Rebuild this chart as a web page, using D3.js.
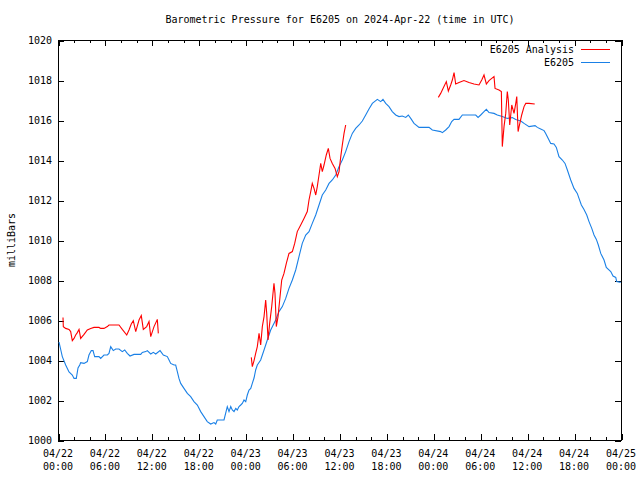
<!DOCTYPE html>
<html>
<head>
<meta charset="utf-8">
<script src="https://cdn.jsdelivr.net/npm/d3@7"></script>
<style>
  body { margin: 0; background: #fff; }
  svg { display: block; }
  text { font-family: "DejaVu Sans Mono", "Liberation Mono", monospace; font-size: 10px; fill: #000; }
</style>
</head>
<body>
<svg id="chart" width="640" height="480"></svg>
<script>
// ---- Data (hours since 2024-04-22 00:00 UTC) ----
const stationHours = [0.13,0.55,0.98,1.41,1.83,2.05,2.34,2.56,2.78,2.90,3.33,3.75,3.96,4.26,4.48,4.69,5.24,5.46,5.88,6.31,6.52,6.74,7.07,7.38,7.80,8.22,8.53,8.86,9.21,9.72,10.58,10.78,11.22,11.42,11.86,12.19,12.50,13.05,13.47,13.98,14.20,14.41,14.84,15.05,15.26,15.47,15.69,16.11,16.54,16.97,17.39,17.82,18.25,18.67,19.09,19.53,19.95,20.17,20.37,21.23,21.65,21.87,22.09,22.29,22.51,22.73,22.93,23.15,23.37,23.57,23.79,24.01,24.21,24.43,24.65,24.85,25.07,25.28,25.49,25.92,26.35,26.77,27.20,27.84,28.26,28.69,29.12,29.54,29.97,30.40,30.82,31.24,31.68,32.10,32.52,32.96,33.38,33.80,34.24,34.66,35.08,35.52,35.94,36.36,36.79,37.22,37.64,38.07,38.50,38.92,39.35,39.77,40.20,40.84,41.27,41.56,41.91,42.33,42.75,43.19,43.61,44.03,44.47,44.80,45.11,45.53,46.17,47.45,47.87,48.94,49.15,49.58,50.01,50.35,50.65,51.28,51.71,53.42,53.72,54.06,54.48,54.78,55.12,55.76,56.18,56.82,57.46,58.10,58.54,59.18,59.60,60.24,61.01,61.30,61.73,62.16,62.37,62.79,63.01,63.43,63.73,64.07,64.50,64.84,65.14,65.57,65.99,66.41,66.63,66.93,67.27,67.62,67.91,68.26,68.55,68.85,69.10,69.41,69.83,70.12,70.69,70.98,71.33,71.45,71.96];
const stationValues = [1004.9,1004.17,1003.75,1003.4,1003.25,1003.08,1003.08,1003.6,1003.75,1003.87,1003.83,1003.92,1004.25,1004.47,1004.47,1004.17,1004.17,1004.08,1004.25,1004.25,1004.33,1004.67,1004.47,1004.55,1004.55,1004.42,1004.5,1004.33,1004.2,1004.28,1004.28,1004.38,1004.42,1004.47,1004.3,1004.38,1004.3,1004.47,1004.25,1004.17,1004.0,1003.83,1003.75,1003.75,1003.42,1003.08,1002.83,1002.58,1002.33,1002.17,1001.92,1001.75,1001.42,1001.17,1000.92,1000.8,1000.87,1000.8,1001.0,1001.0,1001.67,1001.42,1001.67,1001.5,1001.42,1001.58,1001.5,1001.67,1001.75,1001.83,1002.0,1001.92,1002.25,1002.5,1002.58,1002.83,1003.1,1003.5,1003.75,1004.0,1004.5,1005.0,1005.5,1006.0,1006.42,1006.67,1007.08,1007.58,1008.0,1008.5,1009.17,1009.83,1010.25,1010.42,1010.83,1011.25,1011.75,1012.25,1012.5,1012.83,1013.0,1013.25,1013.67,1014.0,1014.42,1014.92,1015.33,1015.58,1015.75,1015.95,1016.25,1016.55,1016.83,1017.03,1016.92,1017.03,1016.83,1016.67,1016.42,1016.25,1016.17,1016.2,1016.13,1016.25,1016.08,1015.83,1015.63,1015.63,1015.5,1015.42,1015.37,1015.5,1015.67,1015.92,1016.03,1016.03,1016.25,1016.25,1016.13,1016.25,1016.42,1016.53,1016.37,1016.33,1016.25,1016.17,1016.08,1016.12,1016.03,1015.95,1015.83,1015.67,1015.72,1015.63,1015.55,1015.47,1015.33,1015.0,1014.83,1014.8,1014.63,1014.17,1014.0,1013.83,1013.5,1013.0,1012.58,1012.33,1012.08,1011.75,1011.53,1011.25,1010.92,1010.58,1010.25,1010.03,1009.75,1009.33,1009.0,1008.63,1008.42,1008.2,1008.13,1007.92,1007.88];

// Analysis series: null marks a gap between segments
const analysisHours = [0.64,0.68,0.98,1.41,1.62,1.83,2.05,2.26,2.47,2.69,2.90,3.33,3.75,4.18,4.60,5.24,5.46,5.88,6.31,6.52,7.80,8.22,8.79,9.08,9.37,9.63,9.94,10.36,10.65,10.91,11.34,11.64,11.86,12.28,12.70,12.83,
  18.0,
  24.72,24.85,25.07,25.28,25.49,25.71,25.92,26.13,26.35,26.56,26.69,26.86,27.07,27.33,27.62,27.75,27.92,28.14,28.35,28.61,28.90,29.20,29.54,29.97,30.27,30.60,31.04,31.46,31.88,32.10,32.32,32.52,32.74,32.96,33.16,33.38,33.60,33.80,34.02,34.31,34.57,34.79,35.08,35.43,35.72,35.94,36.16,36.36,36.58,36.79,
  42.0,
  48.64,48.94,49.24,49.66,49.92,50.22,50.43,50.65,50.86,51.28,51.92,52.56,53.20,53.84,54.19,54.48,54.78,55.12,55.47,55.76,55.89,56.40,56.70,56.82,57.04,57.26,57.46,57.59,57.77,58.03,58.32,58.54,58.67,58.84,58.97,59.30,59.60,59.82,60.24,60.97];
const analysisValues = [1006.13,1005.67,1005.58,1005.53,1005.42,1004.97,1005.08,1005.25,1005.37,1005.53,1005.08,1005.28,1005.5,1005.58,1005.63,1005.63,1005.58,1005.58,1005.67,1005.75,1005.75,1005.53,1005.25,1005.5,1005.8,1005.97,1005.42,1006.0,1006.22,1005.53,1005.67,1005.92,1005.17,1005.67,1006.03,1005.33,
  null,
  1004.13,1003.67,1003.97,1004.33,1004.67,1005.33,1004.75,1005.67,1006.17,1007.0,1006.33,1005.0,1005.83,1006.67,1007.83,1007.33,1005.67,1006.17,1007.0,1008.0,1008.33,1008.83,1009.33,1009.42,1009.83,1010.42,1010.75,1011.08,1011.42,1012.0,1012.42,1012.83,1012.58,1012.25,1012.67,1013.25,1013.83,1013.42,1013.75,1014.25,1014.58,1014.08,1013.83,1013.58,1013.17,1013.42,1014.17,1014.75,1015.33,1015.75,
  null,
  1017.13,1017.33,1017.58,1017.92,1017.45,1017.75,1018.0,1018.37,1017.8,1017.87,1017.97,1017.88,1017.8,1017.75,1018.0,1018.25,1017.8,1017.97,1018.08,1018.17,1017.58,1017.5,1017.42,1014.67,1015.67,1016.33,1017.42,1017.0,1015.75,1016.75,1016.33,1016.83,1017.17,1015.42,1015.67,1016.25,1016.67,1016.83,1016.83,1016.8];

const yTicks = [1000,1002,1004,1006,1008,1010,1012,1014,1016,1018,1020];
const seriesNames = ["E6205 Analysis", "E6205"];
const seriesColors = ["#ff0000", "#1a80e6"];
const titleText = "Barometric Pressure for E6205 on 2024-Apr-22 (time in UTC)";
const yLabel = "milliBars";

// ---- Build ----
const start = Date.UTC(2024, 3, 22, 0, 0);
const toDate = h => new Date(start + h * 3600000);
const station = stationHours.map((h, i) => ({ t: toDate(h), v: stationValues[i] }));
const analysis = analysisHours.map((h, i) => ({ t: toDate(h), v: analysisValues[i] }));

const svg = d3.select("#chart");
const L = 58, R = 621, T = 40, B = 440;

const x = d3.scaleUtc().domain([toDate(0), toDate(72)]).range([L, R]);
const y = d3.scaleLinear().domain([1000, 1020]).range([B, T]);

const majorX = d3.utcHour.every(6).range(toDate(0), toDate(72.01));
const minorX = d3.utcHour.every(2).range(toDate(0), toDate(72.01));
const fmtDate = d3.utcFormat("%m/%d");
const fmtTime = d3.utcFormat("%H:%M");

function tickAxis(axis, tr, vals, size, shift) {
  const g = svg.append("g").attr("transform", tr)
    .call(axis.tickValues(vals).tickSize(size).tickFormat(""));
  g.select(".domain").remove();
  g.selectAll("line").attr("stroke", "#000").attr("transform", shift).attr("shape-rendering", "crispEdges");
  return g;
}
tickAxis(d3.axisBottom(x), `translate(0,${B})`, minorX, -3, "translate(0.5,0)");
tickAxis(d3.axisBottom(x), `translate(0,${B})`, majorX, -6, "translate(0.5,0)");
tickAxis(d3.axisTop(x), `translate(0,${T})`, minorX, -3, "translate(0.5,0)");
tickAxis(d3.axisTop(x), `translate(0,${T})`, majorX, -6, "translate(0.5,0)");
tickAxis(d3.axisRight(y), `translate(${R},0)`, yTicks, -6, "translate(0,0.5)");

// X labels (two lines)
const xl = svg.append("g");
majorX.forEach(d => {
  const t = xl.append("text").attr("x", x(d)).attr("text-anchor", "middle");
  t.append("tspan").attr("x", x(d)).attr("y", 457).text(fmtDate(d));
  t.append("tspan").attr("x", x(d)).attr("y", 470).text(fmtTime(d));
});

// Y axis left
const gy = svg.append("g").attr("transform", `translate(${L},0)`)
  .call(d3.axisLeft(y).tickValues(yTicks).tickSize(-6).tickFormat(d3.format("d")));
gy.select(".domain").remove();
gy.selectAll("line").attr("stroke", "#000").attr("transform", "translate(0,0.5)").attr("shape-rendering", "crispEdges");
gy.selectAll("text").attr("x", -6).attr("dy", "0.35em")
  .style("font-family", '"DejaVu Sans Mono", monospace').style("font-size", "10px");

// Frame
svg.append("rect").attr("x", L + 0.5).attr("y", T + 0.5).attr("width", R - L).attr("height", B - T)
  .attr("fill", "none").attr("stroke", "#000").attr("stroke-width", 1).attr("shape-rendering", "crispEdges");

// Lines
const line = d3.line().defined(d => d.v != null).x(d => x(d.t)).y(d => y(d.v));
svg.append("path").datum(station).attr("d", line)
  .attr("fill", "none").attr("stroke", seriesColors[1]).attr("stroke-width", 1.1);
svg.append("path").datum(analysis).attr("d", line)
  .attr("fill", "none").attr("stroke", seriesColors[0]).attr("stroke-width", 1.1);

// Title
svg.append("text").attr("x", 340).attr("y", 23).attr("text-anchor", "middle").text(titleText);

// Y label
svg.append("text").attr("transform", "translate(15,240) rotate(-90)").attr("text-anchor", "middle").text(yLabel);

// Legend
const legY = [49.5, 62.5];
seriesNames.forEach((n, i) => {
  svg.append("text").attr("x", 574).attr("y", legY[i]).attr("dy", "0.35em").attr("text-anchor", "end").text(n);
  svg.append("line").attr("x1", 581).attr("x2", 610).attr("y1", legY[i]).attr("y2", legY[i])
    .attr("stroke", seriesColors[i]).attr("stroke-width", 1).attr("shape-rendering", "crispEdges");
});
</script>
</body>
</html>
